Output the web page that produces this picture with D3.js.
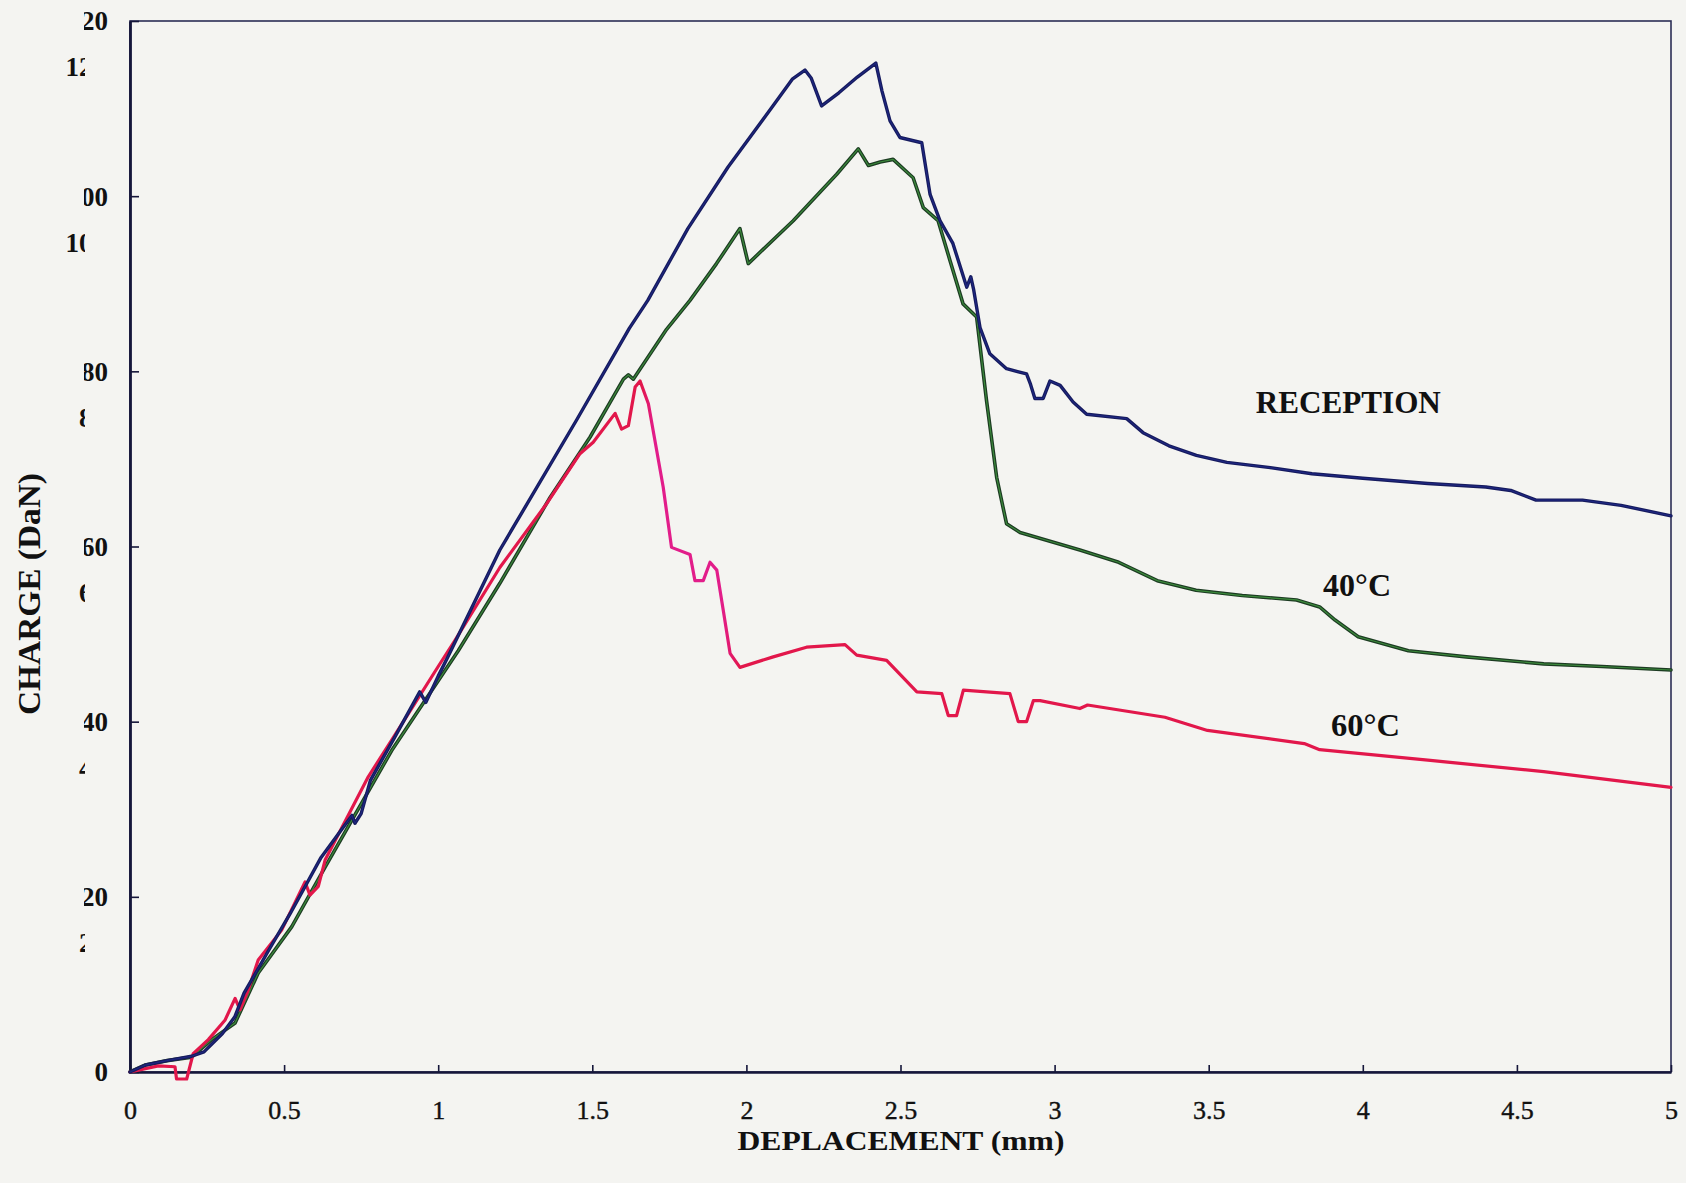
<!DOCTYPE html>
<html>
<head>
<meta charset="utf-8">
<script src="https://cdn.jsdelivr.net/npm/d3@7"></script>
<style>
  body { margin: 0; background: #f4f4f1; }
  svg { display: block; }
  text { font-family: "Liberation Serif", "Times New Roman", serif; fill: #111; }
</style>
</head>
<body>
<script>
// charge / deplacement curves

// tick values
var xTicks = [0, 0.5, 1, 1.5, 2, 2.5, 3, 3.5, 4, 4.5, 5];
var yTicks = [0, 20, 40, 60, 80, 100, 120];

// RECEPTION (blue)
var recX = [0, 0.05, 0.12, 0.2, 0.24, 0.3, 0.34, 0.37, 0.45, 0.52, 0.57, 0.62, 0.72, 0.73, 0.75, 0.78, 0.86, 0.94, 0.96, 1.0, 1.03, 1.2, 1.45, 1.62, 1.68, 1.81, 1.94, 2.09, 2.15, 2.19, 2.21, 2.244, 2.3, 2.36, 2.42, 2.44, 2.466, 2.498, 2.569, 2.596, 2.628, 2.67, 2.715, 2.728, 2.737, 2.758, 2.79, 2.844, 2.909, 2.922, 2.936, 2.963, 2.985, 3.018, 3.06, 3.104, 3.234, 3.287, 3.371, 3.46, 3.559, 3.7, 3.835, 4.0, 4.211, 4.399, 4.48, 4.562, 4.713, 4.838, 5.0];
var recY = [0, 0.8, 1.3, 1.8, 2.3, 4.4, 6.3, 9, 13.9, 18.1, 21.3, 24.5, 29.3, 28.4, 29.5, 33.3, 38.3, 43.4, 42.2, 45.2, 47.3, 59.6, 74.5, 84.9, 88.1, 96.3, 103.3, 110.5, 113.4, 114.4, 113.5, 110.3, 111.8, 113.6, 115.2, 112, 108.6, 106.7, 106.1, 100.2, 97.2, 94.6, 89.6, 90.8, 89.4, 85, 82, 80.3, 79.7, 78.5, 76.9, 76.9, 78.9, 78.4, 76.5, 75.1, 74.6, 73, 71.5, 70.4, 69.6, 69, 68.3, 67.8, 67.2, 66.8, 66.4, 65.3, 65.3, 64.7, 63.5];

// 40°C (green)
var c40X = [0, 0.05, 0.12, 0.2, 0.265, 0.341, 0.416, 0.525, 0.633, 0.849, 1.065, 1.2, 1.363, 1.493, 1.601, 1.617, 1.633, 1.741, 1.817, 1.903, 1.979, 2.006, 2.152, 2.293, 2.363, 2.396, 2.434, 2.476, 2.541, 2.574, 2.622, 2.661, 2.703, 2.747, 2.779, 2.812, 2.844, 2.888, 3.082, 3.208, 3.333, 3.459, 3.609, 3.785, 3.86, 3.91, 3.985, 4.148, 4.336, 4.587, 4.776, 5.0];
var c40Y = [0, 0.8, 1.3, 1.7, 3.7, 5.6, 11.3, 16.6, 23.4, 36.7, 48.1, 55.8, 65.6, 72.5, 79.1, 79.6, 79.1, 84.8, 88.1, 92.3, 96.3, 92.3, 97.2, 102.5, 105.4, 103.5, 103.9, 104.2, 102.1, 98.7, 97.2, 92.6, 87.7, 86.2, 76.7, 67.9, 62.6, 61.6, 59.6, 58.2, 56.1, 55, 54.4, 53.9, 53.1, 51.6, 49.7, 48.1, 47.4, 46.6, 46.3, 45.9];

// 60°C (red)
var c60X = [0, 0.092, 0.146, 0.151, 0.184, 0.205, 0.254, 0.308, 0.341, 0.357, 0.384, 0.416, 0.492, 0.568, 0.584, 0.611, 0.633, 0.773, 0.849, 1.0, 1.055, 1.2, 1.352, 1.46, 1.503, 1.574, 1.595, 1.617, 1.639, 1.655, 1.682, 1.73, 1.757, 1.817, 1.833, 1.86, 1.882, 1.904, 1.925, 1.947, 1.979, 2.087, 2.195, 2.32, 2.358, 2.455, 2.553, 2.634, 2.655, 2.682, 2.704, 2.855, 2.882, 2.909, 2.931, 2.953, 3.082, 3.107, 3.358, 3.496, 3.81, 3.86, 4.211, 4.587, 5.0];
var c60Y = [0, 0.7, 0.6, -0.8, -0.8, 2.1, 3.7, 5.9, 8.4, 7.1, 9.4, 12.8, 16.2, 21.7, 20.2, 21.2, 24.2, 33.7, 37.9, 46.3, 49.3, 57.6, 64.9, 70.6, 71.9, 75.2, 73.4, 73.8, 78.2, 78.9, 76.3, 66.8, 59.9, 59.1, 56.1, 56.1, 58.2, 57.3, 52.7, 47.8, 46.2, 47.4, 48.5, 48.8, 47.6, 47, 43.4, 43.2, 40.7, 40.7, 43.6, 43.2, 40, 40, 42.4, 42.4, 41.5, 41.9, 40.5, 39, 37.5, 36.8, 35.6, 34.3, 32.5];

// curve labels
var labelNames = ["RECEPTION", "40°C", "60°C"];
var labelX = [3.653, 3.871, 3.897];
var labelY = [75.2, 54.4, 38.4];

var width = 1686,
    height = 1183;

var svg = d3.select("body")
  .append("svg")
  .attr("width", width)
  .attr("height", height);

// scales
var xScale = d3.scaleLinear().domain([0, 5]).range([130, 1671]);
var yScale = d3.scaleLinear().domain([0, 120]).range([1072, 21]);

var defs = svg.append("defs");

// clip for the main y labels (left part cut off in the scan)
defs.append("clipPath").attr("id", "clipMain")
  .append("rect").attr("x", 84).attr("y", 0).attr("width", 300).attr("height", height);

// clip for the ghost y labels (right part cut off)
defs.append("clipPath").attr("id", "clipGhost")
  .append("rect").attr("x", 40).attr("y", 0).attr("width", 45).attr("height", height);

// red line turns magenta where it drops
var grad = defs.append("linearGradient")
  .attr("id", "redGrad")
  .attr("gradientUnits", "userSpaceOnUse")
  .attr("x1", xScale(0)).attr("x2", xScale(5))
  .attr("y1", 0).attr("y2", 0);
function off(v) { return (xScale(v) - xScale(0)) / (xScale(5) - xScale(0)); }
[[0, "#e2174b"], [off(1.66), "#e2174b"], [off(1.70), "#e21d8a"], [off(1.92), "#e21d8a"], [off(1.98), "#e2174b"], [1, "#e2174b"]]
  .forEach(function(s) {
    grad.append("stop").attr("offset", s[0]).attr("stop-color", s[1]);
  });

// frame (top and right)
svg.append("rect")
  .attr("x", xScale(0))
  .attr("y", yScale(120))
  .attr("width", xScale(5) - xScale(0))
  .attr("height", yScale(0) - yScale(120))
  .style("fill", "none")
  .style("stroke", "#2b2d55")
  .style("stroke-width", 1.6);

// x axis
var xAxis = d3.axisBottom(xScale)
  .tickValues(xTicks)
  .tickSizeInner(-7)
  .tickSizeOuter(0)
  .tickPadding(29)
  .tickFormat(function(d) { return String(d); });

var gx = svg.append("g")
  .attr("class", "x axis")
  .attr("transform", "translate(0," + yScale(0) + ")")
  .call(xAxis);
gx.select(".domain").style("stroke", "#15163a").style("stroke-width", 2.4);
gx.selectAll(".tick line").style("stroke", "#15163a").style("stroke-width", 1.6);
gx.selectAll("text")
  .style("font-size", "26px")
  .style("font-family", "'Liberation Serif', serif")
  .style("fill", "#111")
  .style("stroke", "#111")
  .style("stroke-width", 0.4);

// y axis (ticks inside, labels drawn separately)
var yAxis = d3.axisLeft(yScale)
  .tickValues(yTicks)
  .tickSizeInner(-9)
  .tickSizeOuter(0)
  .tickFormat("");

var gy = svg.append("g")
  .attr("class", "y axis")
  .attr("transform", "translate(" + xScale(0) + ",0)")
  .call(yAxis);
gy.select(".domain").style("stroke", "#15163a").style("stroke-width", 2.8);
gy.selectAll(".tick line").style("stroke", "#15163a").style("stroke-width", 1.6);

// main y labels, left part clipped
var mainLabels = svg.append("g").attr("clip-path", "url(#clipMain)");
mainLabels.selectAll("text")
  .data(yTicks)
  .enter()
  .append("text")
  .attr("x", xScale(0) - 22)
  .attr("y", function(d) { return yScale(d); })
  .attr("dy", "0.35em")
  .attr("text-anchor", "end")
  .style("font-size", "27px")
  .style("font-weight", "bold")
  .text(function(d) { return d; });

// ghost labels (misprinted copy, shifted down, right part clipped)
var ghost = svg.append("g").attr("clip-path", "url(#clipGhost)");
ghost.selectAll("text")
  .data(yTicks)
  .enter()
  .append("text")
  .attr("x", 106)
  .attr("y", function(d) { return yScale(d) + 46; })
  .attr("dy", "0.35em")
  .attr("text-anchor", "end")
  .style("font-size", "27px")
  .style("font-weight", "bold")
  .text(function(d) { return d; });

// lines
function makeLine(xs, ys) {
  return d3.line()
    .x(function(d, i) { return xScale(xs[i]); })
    .y(function(d, i) { return yScale(ys[i]); })(xs);
}

var plot = svg.append("g").style("fill", "none")
  .style("stroke-linejoin", "round").style("stroke-linecap", "round");

// green: dark edge with lighter core
plot.append("path").attr("d", makeLine(c40X, c40Y))
  .style("stroke", "#1c3b22").style("stroke-width", 3.6);
plot.append("path").attr("d", makeLine(c40X, c40Y))
  .style("stroke", "#3c8a3c").style("stroke-width", 1.2);

// red
plot.append("path").attr("d", makeLine(c60X, c60Y))
  .style("stroke", "url(#redGrad)").style("stroke-width", 3.2);

// blue
plot.append("path").attr("d", makeLine(recX, recY))
  .style("stroke", "#161b5e").style("stroke-width", 3.4);
plot.append("path").attr("d", makeLine(recX, recY))
  .style("stroke", "#2430a0").style("stroke-width", 1.0)
  .style("opacity", 0.6);

// curve labels
var labelWidths = [185, 68, 69];
svg.selectAll(".curve-label")
  .data(labelNames)
  .enter()
  .append("text")
  .attr("class", "curve-label")
  .attr("x", function(d, i) { return xScale(labelX[i]); })
  .attr("y", function(d, i) { return yScale(labelY[i]); })
  .attr("textLength", function(d, i) { return labelWidths[i]; })
  .attr("lengthAdjust", "spacingAndGlyphs")
  .style("font-size", "31px")
  .style("font-weight", "bold")
  .text(function(d) { return d; });

// axis titles
svg.append("text")
  .attr("x", 901)
  .attr("y", 1150)
  .attr("text-anchor", "middle")
  .attr("textLength", 327)
  .attr("lengthAdjust", "spacingAndGlyphs")
  .style("font-size", "28px")
  .style("font-weight", "bold")
  .text("DEPLACEMENT (mm)");

svg.append("text")
  .attr("transform", "translate(40,594)rotate(-90)")
  .attr("text-anchor", "middle")
  .attr("textLength", 242)
  .attr("lengthAdjust", "spacingAndGlyphs")
  .style("font-size", "31px")
  .style("font-weight", "bold")
  .text("CHARGE (DaN)");
</script>
</body>
</html>
